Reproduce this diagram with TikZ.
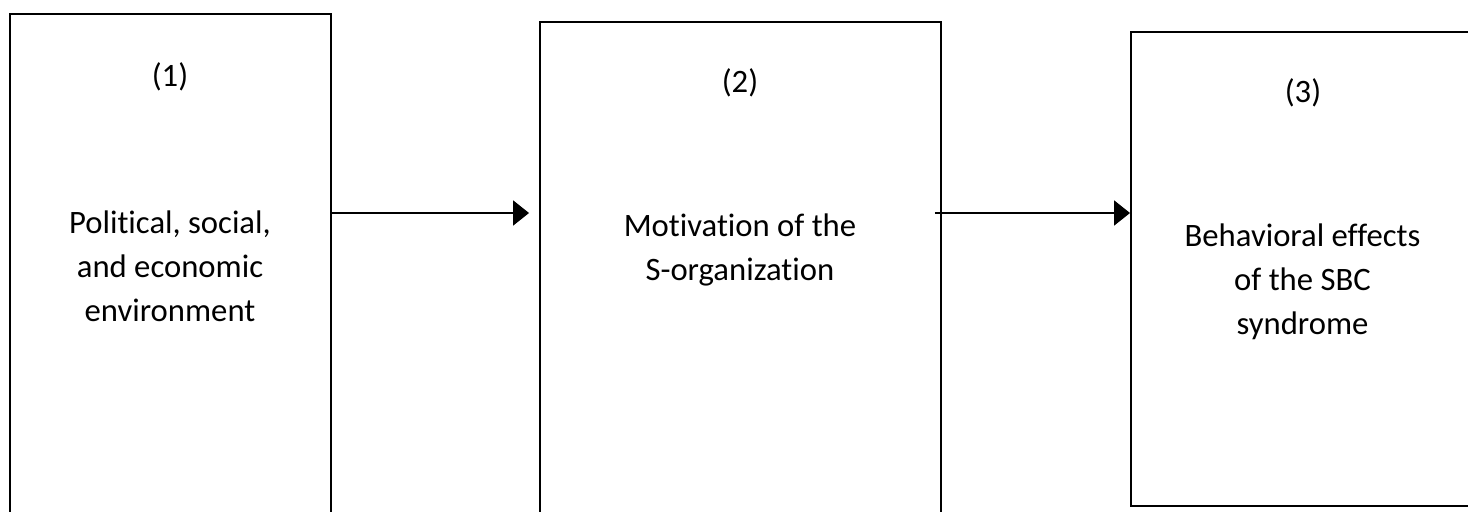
\documentclass[tikz,border=0pt]{standalone}
\usepackage{fontspec}
\setmainfont{Carlito}[Ligatures=NoCommon]
\usetikzlibrary{arrows.meta}
\tikzset{
  box/.style={draw, line width=0.04cm, minimum width=#1, inner sep=0pt},
  lbl/.style={align=center, font=\fontsize{18.6}{25}\selectfont, inner sep=0pt},
  flow/.style={line width=0.04cm, -{Triangle[length=0.32cm, width=0.5cm]}}
}
\begin{document}
\begin{tikzpicture}[x=0.02cm, y=-0.02cm]
        \useasboundingbox (0,0) rectangle (1468,511);
        \clip (0,0) rectangle (1468,511);

        \node[box=6.42cm, minimum height=10.4cm] (env) at (170.5,274) {};
        \node[box=8.02cm, minimum height=10.4cm] (motiv) at (740.5,282) {};
        \node[box=7.0cm, minimum height=9.48cm] (effect) at (1306,269) {};

        \node[lbl] (n1) at (170,77) {(1)};
        \node[lbl] (t1) at (170,266) {Political, social,\\and economic\\environment};
        \node[lbl] (n2) at (740,83) {(2)};
        \node[lbl] (t2) at (740,250) {Motivation of the\\S-organization};
        \node[lbl] (n3) at (1303,93) {(3)};
        \node[lbl] (t3) at (1302.5,282) {Behavioral effects\\of the SBC\\syndrome};

        \coordinate (lvl) at (0,213);
        \draw[flow, shorten >=10*0.02cm] (env.east |- lvl) -- (motiv.west |- lvl);
        \draw[flow, shorten <=-7*0.02cm] (motiv.east |- lvl) -- (effect.west |- lvl);
\end{tikzpicture}
\end{document}
